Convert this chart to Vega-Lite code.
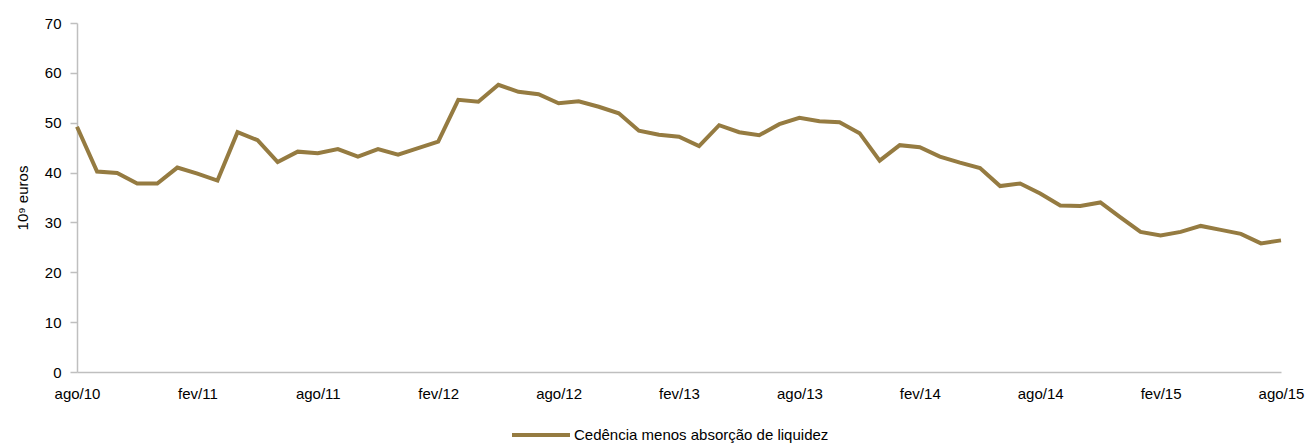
{
  "$schema": "https://vega.github.io/schema/vega-lite/v6.json",
  "autosize": "none",
  "width": 1204,
  "height": 349,
  "padding": {"left": 77, "top": 23, "right": 25, "bottom": 71},
  "background": "white",
  "config": {
    "font": "Liberation Sans",
    "view": {"stroke": null}
  },
  "data": {"values": [
    {"m": "ago/10", "v": 49.2}, {"m": "set/10", "v": 40.2}, {"m": "out/10", "v": 39.9}, {"m": "nov/10", "v": 37.8}, {"m": "dez/10", "v": 37.8},
    {"m": "jan/11", "v": 41.0}, {"m": "fev/11", "v": 39.8}, {"m": "mar/11", "v": 38.4}, {"m": "abr/11", "v": 48.1}, {"m": "mai/11", "v": 46.5},
    {"m": "jun/11", "v": 42.1}, {"m": "jul/11", "v": 44.2}, {"m": "ago/11", "v": 43.9}, {"m": "set/11", "v": 44.7}, {"m": "out/11", "v": 43.2},
    {"m": "nov/11", "v": 44.7}, {"m": "dez/11", "v": 43.6}, {"m": "jan/12", "v": 44.9}, {"m": "fev/12", "v": 46.2}, {"m": "mar/12", "v": 54.6},
    {"m": "abr/12", "v": 54.2}, {"m": "mai/12", "v": 57.6}, {"m": "jun/12", "v": 56.2}, {"m": "jul/12", "v": 55.7}, {"m": "ago/12", "v": 53.9},
    {"m": "set/12", "v": 54.3}, {"m": "out/12", "v": 53.2}, {"m": "nov/12", "v": 51.9}, {"m": "dez/12", "v": 48.4}, {"m": "jan/13", "v": 47.6},
    {"m": "fev/13", "v": 47.2}, {"m": "mar/13", "v": 45.3}, {"m": "abr/13", "v": 49.5}, {"m": "mai/13", "v": 48.1}, {"m": "jun/13", "v": 47.5},
    {"m": "jul/13", "v": 49.7}, {"m": "ago/13", "v": 51.0}, {"m": "set/13", "v": 50.3}, {"m": "out/13", "v": 50.1}, {"m": "nov/13", "v": 47.9},
    {"m": "dez/13", "v": 42.4}, {"m": "jan/14", "v": 45.5}, {"m": "fev/14", "v": 45.1}, {"m": "mar/14", "v": 43.2}, {"m": "abr/14", "v": 42.0},
    {"m": "mai/14", "v": 40.9}, {"m": "jun/14", "v": 37.3}, {"m": "jul/14", "v": 37.8}, {"m": "ago/14", "v": 35.8}, {"m": "set/14", "v": 33.4},
    {"m": "out/14", "v": 33.3}, {"m": "nov/14", "v": 34.0}, {"m": "dez/14", "v": 31.0}, {"m": "jan/15", "v": 28.1}, {"m": "fev/15", "v": 27.4},
    {"m": "mar/15", "v": 28.1}, {"m": "abr/15", "v": 29.3}, {"m": "mai/15", "v": 28.5}, {"m": "jun/15", "v": 27.7}, {"m": "jul/15", "v": 25.8},
    {"m": "ago/15", "v": 26.4}
  ]},
  "transform": [{"calculate": "'Cedência menos absorção de liquidez'", "as": "s"}],
  "mark": {"type": "line", "strokeWidth": 4, "strokeJoin": "miter", "strokeCap": "butt"},
  "encoding": {
    "x": {
      "field": "m", "type": "ordinal", "sort": null,
      "scale": {"type": "point", "padding": 0},
      "axis": {
        "title": null,
        "values": ["ago/10", "fev/11", "ago/11", "fev/12", "ago/12", "fev/13", "ago/13", "fev/14", "ago/14", "fev/15", "ago/15"],
        "labelAngle": 0, "ticks": false, "labelPadding": 14, "labelFontSize": 15, "labelColor": "#000",
        "domainColor": "#bfbfbf", "domainWidth": 1.5, "grid": false
      }
    },
    "y": {
      "field": "v", "type": "quantitative",
      "scale": {"domain": [0, 70], "nice": false},
      "axis": {
        "title": "10⁹ euros", "titleFontSize": 15, "titleFontWeight": "normal", "titleColor": "#000",
        "titleX": -55, "titleY": 174.5, "titleAngle": -90, "titleAlign": "center", "titleBaseline": "middle",
        "values": [0, 10, 20, 30, 40, 50, 60, 70],
        "labelFontSize": 15, "labelColor": "#000", "labelPadding": 9,
        "tickSize": 7, "tickColor": "#bfbfbf", "tickWidth": 1.5,
        "domainColor": "#bfbfbf", "domainWidth": 1.5, "grid": false
      }
    },
    "color": {
      "field": "s", "type": "nominal",
      "scale": {"range": ["#957B41"]},
      "legend": {
        "title": null, "orient": "none", "legendX": 433, "legendY": 381,
        "symbolType": "stroke", "symbolSize": 3364, "symbolStrokeWidth": 4,
        "labelFontSize": 15, "labelColor": "#000", "labelOffset": 2, "labelLimit": 0
      }
    }
  }
}
